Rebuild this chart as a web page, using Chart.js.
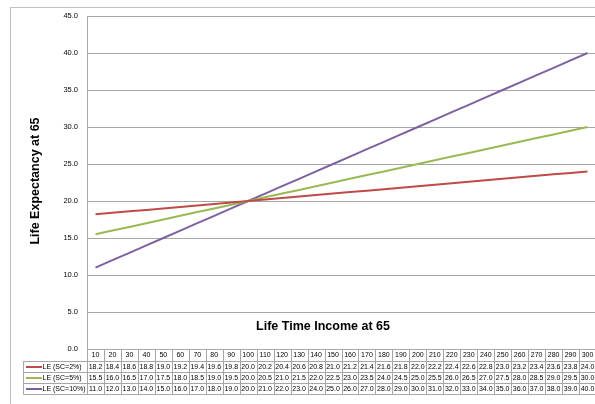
<!DOCTYPE html>
<html>
<head>
<meta charset="utf-8">
<script src="https://cdn.jsdelivr.net/npm/chart.js@4.4.1/dist/chart.umd.min.js"></script>
<style>
html, body { margin: 0; padding: 0; background: #fff; overflow: hidden; }
#wrap { position: absolute; left: 0; top: 0; width: 600px; height: 404px; }
</style>
</head>
<body>
<div id="wrap"><canvas id="le-chart"></canvas></div>
<script>
// data
const incomes = ['10','20','30','40','50','60','70','80','90','100',
                 '110','120','130','140','150','160','170','180','190','200',
                 '210','220','230','240','250','260','270','280','290','300'];
const le2 = [18.2,18.4,18.6,18.8,19.0,19.2,19.4,19.6,19.8,20.0,
             20.2,20.4,20.6,20.8,21.0,21.2,21.4,21.6,21.8,22.0,
             22.2,22.4,22.6,22.8,23.0,23.2,23.4,23.6,23.8,24.0];
const le5 = [15.5,16.0,16.5,17.0,17.5,18.0,18.5,19.0,19.5,20.0,
             20.5,21.0,21.5,22.0,22.5,23.0,23.5,24.0,24.5,25.0,
             25.5,26.0,26.5,27.0,27.5,28.0,28.5,29.0,29.5,30.0];
const le10 = [11.0,12.0,13.0,14.0,15.0,16.0,17.0,18.0,19.0,20.0,
              21.0,22.0,23.0,24.0,25.0,26.0,27.0,28.0,29.0,30.0,
              31.0,32.0,33.0,34.0,35.0,36.0,37.0,38.0,39.0,40.0];
const seriesNames = ['LE (SC=2%)', 'LE (SC=5%)', 'LE (SC=10%)'];
const seriesColors = ['#BE4B48', '#98B954', '#7D60A0'];
const xTitle = 'Life Time Income at 65';
const yTitle = 'Life Expectancy at 65';

const FONT = '"Liberation Sans", Arial, sans-serif';
const LINE = '#a6a6a6';

// draws the outer frame, the axis titles and the excel style data table
const tablePlugin = {
    id: 'tablePlugin',
    beforeDraw(chart){
        let ctx = chart.ctx;
        ctx.save();
        ctx.strokeStyle = '#bfbfbf';
        ctx.lineWidth = 1;
        ctx.strokeRect(10.5, 7.5, 700, 500);
        ctx.restore();
    },
    afterDraw(chart){
        let ctx = chart.ctx;
        let area = chart.chartArea;
        let x = chart.scales.x;
        let colW = (area.right - area.left) / incomes.length;
        let top = area.bottom;
        let headH = 12;
        let rowH = 11;
        let legLeft = 23.5;
        let bottom = top + headH + rowH * seriesNames.length;

        ctx.save();
        ctx.strokeStyle = LINE;
        ctx.lineWidth = 1;

        //horizontal lines
        ctx.beginPath();
        for(let r = 0; r <= seriesNames.length; r++){
            let y = Math.round(top + headH + rowH * r) + 0.5;
            ctx.moveTo(legLeft, y);
            ctx.lineTo(area.right, y);
        }
        //vertical lines
        for(let c = 0; c <= incomes.length; c++){
            let xx = Math.round(area.left + colW * c) + 0.5;
            ctx.moveTo(xx, top);
            ctx.lineTo(xx, bottom + 0.5);
        }
        ctx.moveTo(legLeft, top + headH);
        ctx.lineTo(legLeft, bottom + 0.5);
        ctx.stroke();

        ctx.fillStyle = '#000';
        ctx.font = '7px ' + FONT;
        ctx.textAlign = 'center';
        ctx.textBaseline = 'middle';
        incomes.forEach((lab, i) => {
            ctx.fillText(lab, x.getPixelForValue(i), top + headH / 2 + 0.5);
        });
        let rows = [le2, le5, le10];
        rows.forEach((vals, r) => {
            let cy = top + headH + rowH * r + rowH / 2 + 0.5;
            vals.forEach((v, i) => {
                ctx.fillText(v.toFixed(1), x.getPixelForValue(i), cy);
            });
            ctx.strokeStyle = seriesColors[r];
            ctx.lineWidth = 2;
            ctx.beginPath();
            ctx.moveTo(26, cy);
            ctx.lineTo(42, cy);
            ctx.stroke();
            ctx.textAlign = 'left';
            ctx.fillText(seriesNames[r], 42.5, cy);
            ctx.textAlign = 'center';
        });

        //axis titles
        ctx.font = 'bold 12.5px ' + FONT;
        ctx.fillText(xTitle, 323, 327);
        ctx.translate(36, 181);
        ctx.rotate(-Math.PI / 2);
        ctx.fillText(yTitle, 0, 0);
        ctx.restore();
    }
};

new Chart(document.querySelector('#le-chart'), {
    type: 'line',
    data: {
        labels: incomes,
        datasets: [
            { label: seriesNames[0], data: le2, borderColor: seriesColors[0], backgroundColor: seriesColors[0] },
            { label: seriesNames[1], data: le5, borderColor: seriesColors[1], backgroundColor: seriesColors[1] },
            { label: seriesNames[2], data: le10, borderColor: seriesColors[2], backgroundColor: seriesColors[2] }
        ]
    },
    options: {
        responsive: true,
        maintainAspectRatio: false,
        animation: false,
        elements: {
            line: { borderWidth: 2, tension: 0 },
            point: { radius: 0, hoverRadius: 0 }
        },
        layout: { padding: { left: 47, top: 16, right: 4, bottom: 55 } },
        scales: {
            x: {
                display: false,
                offset: true
            },
            y: {
                min: 0,
                max: 45,
                afterFit: s => { s.width = 40; },
                border: { display: true, color: LINE },
                grid: { color: LINE, drawTicks: false },
                ticks: {
                    stepSize: 5,
                    padding: 9,
                    color: '#000',
                    font: { family: FONT, size: 7.5 },
                    callback: v => v.toFixed(1)
                }
            }
        },
        plugins: {
            legend: { display: false },
            tooltip: { enabled: false }
        }
    },
    plugins: [tablePlugin]
});
</script>
</body>
</html>
